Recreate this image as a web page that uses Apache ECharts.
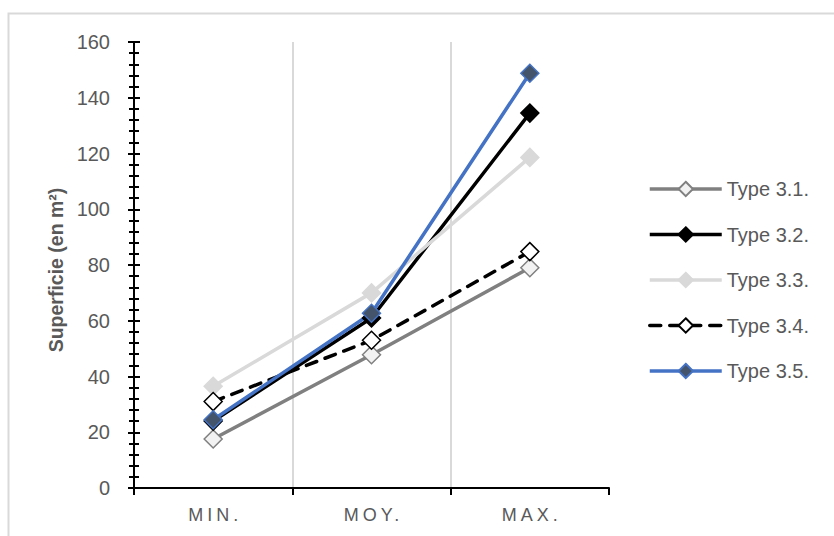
<!DOCTYPE html>
<html>
<head>
<meta charset="utf-8">
<script src="https://cdn.jsdelivr.net/npm/echarts@6/dist/echarts.min.js"></script>
<style>
html,body{margin:0;padding:0;background:#fff;}
#main{width:834px;height:536px;}
</style>
</head>
<body>
<div id="main"></div>
<script>
const categories = ['MIN.', 'MOY.', 'MAX.'];
const seriesNames = ['Type 3.1.', 'Type 3.2.', 'Type 3.3.', 'Type 3.4.', 'Type 3.5.'];
const type31 = [17.6, 47.8, 79.0];
const type32 = [24.0, 61.0, 134.5];
const type33 = [36.5, 70.0, 118.6];
const type34 = [31.0, 53.0, 84.8];
const type35 = [24.5, 62.7, 148.8];
const yTicks = { min: 0, max: 160, interval: 20 };
const yTitle = 'Superficie (en m²)';

const FONT = 'Liberation Sans';
const TXT = '#595959';

const chart = echarts.init(document.getElementById('main'), null, { renderer: 'svg' });

function mk(name, data, lineColor, fill, stroke, dashed) {
  return {
    name: name,
    type: 'line',
    data: data,
    symbol: 'diamond',
    symbolSize: 18,
    showSymbol: true,
    lineStyle: { color: lineColor, width: 3.5, type: dashed ? [11, 9] : 'solid', cap: dashed ? 'round' : 'butt' },
    itemStyle: { color: fill, borderColor: stroke, borderWidth: 1.5 },
    emphasis: { disabled: true },
    z: 3
  };
}

const option = {
  animation: false,
  backgroundColor: '#fff',
  textStyle: { fontFamily: FONT },
  graphic: [{
    type: 'rect',
    shape: { x: 8.5, y: 13.5, width: 840, height: 540 },
    style: { fill: 'none', stroke: '#d9d9d9', lineWidth: 2 },
    silent: true, z: -10
  }],
  grid: { left: 134, right: 225, top: 42, bottom: 48 },
  legend: {
    orient: 'vertical',
    left: 648,
    top: 179,
    padding: 0,
    itemWidth: 72,
    itemHeight: 18,
    itemGap: 25.5,
    lineStyle: { width: 3.5 },
    textStyle: { color: TXT, fontSize: 20, fontFamily: FONT, lineHeight: 18 },
    data: seriesNames
  },
  xAxis: {
    type: 'category',
    data: categories,
    boundaryGap: true,
    axisLine: { lineStyle: { color: '#000', width: 2 } },
    axisTick: { show: true, length: 7, lineStyle: { color: '#000', width: 2 } },
    axisLabel: { color: TXT, fontSize: 18, margin: 18, fontFamily: FONT },
    splitLine: { show: true, showMinLine: false, showMaxLine: false, lineStyle: { color: '#d9d9d9', width: 2 } }
  },
  yAxis: [{
    type: 'value',
    min: yTicks.min, max: yTicks.max, interval: yTicks.interval,
    name: yTitle,
    nameLocation: 'middle',
    nameRotate: 90,
    nameGap: 68,
    nameTextStyle: { color: TXT, fontSize: 19.5, fontWeight: 'bold', fontFamily: FONT, padding: [0, 10, 0, 0] },
    axisLine: { show: true, lineStyle: { color: '#000', width: 2 } },
    axisTick: { show: true, length: 6, lineStyle: { color: '#000', width: 2 } },
    minorTick: { show: true, splitNumber: 5, length: 5, lineStyle: { color: '#000', width: 2 } },
    axisLabel: { color: TXT, fontSize: 20, margin: 24, fontFamily: FONT },
    splitLine: { show: false }
  }, {
    type: 'value',
    position: 'left',
    offset: 0,
    min: yTicks.min, max: yTicks.max, interval: yTicks.interval,
    axisLine: { show: true, lineStyle: { color: '#000', width: 2 } },
    axisTick: { show: true, inside: true, length: 6, lineStyle: { color: '#000', width: 2 } },
    minorTick: { show: true, splitNumber: 5, length: 5, lineStyle: { color: '#000', width: 2 } },
    axisLabel: { show: false },
    splitLine: { show: false }
  }],
  series: [
    mk(seriesNames[0], type31, '#808080', '#f2f2f2', '#808080', false),
    mk(seriesNames[1], type32, '#000000', '#000000', '#000000', false),
    mk(seriesNames[2], type33, '#d9d9d9', '#d9d9d9', '#d9d9d9', false),
    mk(seriesNames[3], type34, '#000000', '#ffffff', '#000000', true),
    mk(seriesNames[4], type35, '#4472c4', '#44546a', '#4472c4', false)
  ]
};
chart.setOption(option);

function spaceLabels() {
  const texts = document.querySelectorAll('#main svg text');
  texts.forEach(t => {
    if (categories.indexOf(t.textContent) >= 0) {
      t.setAttribute('letter-spacing', '4px');
      t.setAttribute('dx', '2');
    }
  });
}
chart.on('finished', spaceLabels);
spaceLabels();
setTimeout(spaceLabels, 0);
setTimeout(spaceLabels, 50);
setTimeout(spaceLabels, 200);
</script>
</body>
</html>
